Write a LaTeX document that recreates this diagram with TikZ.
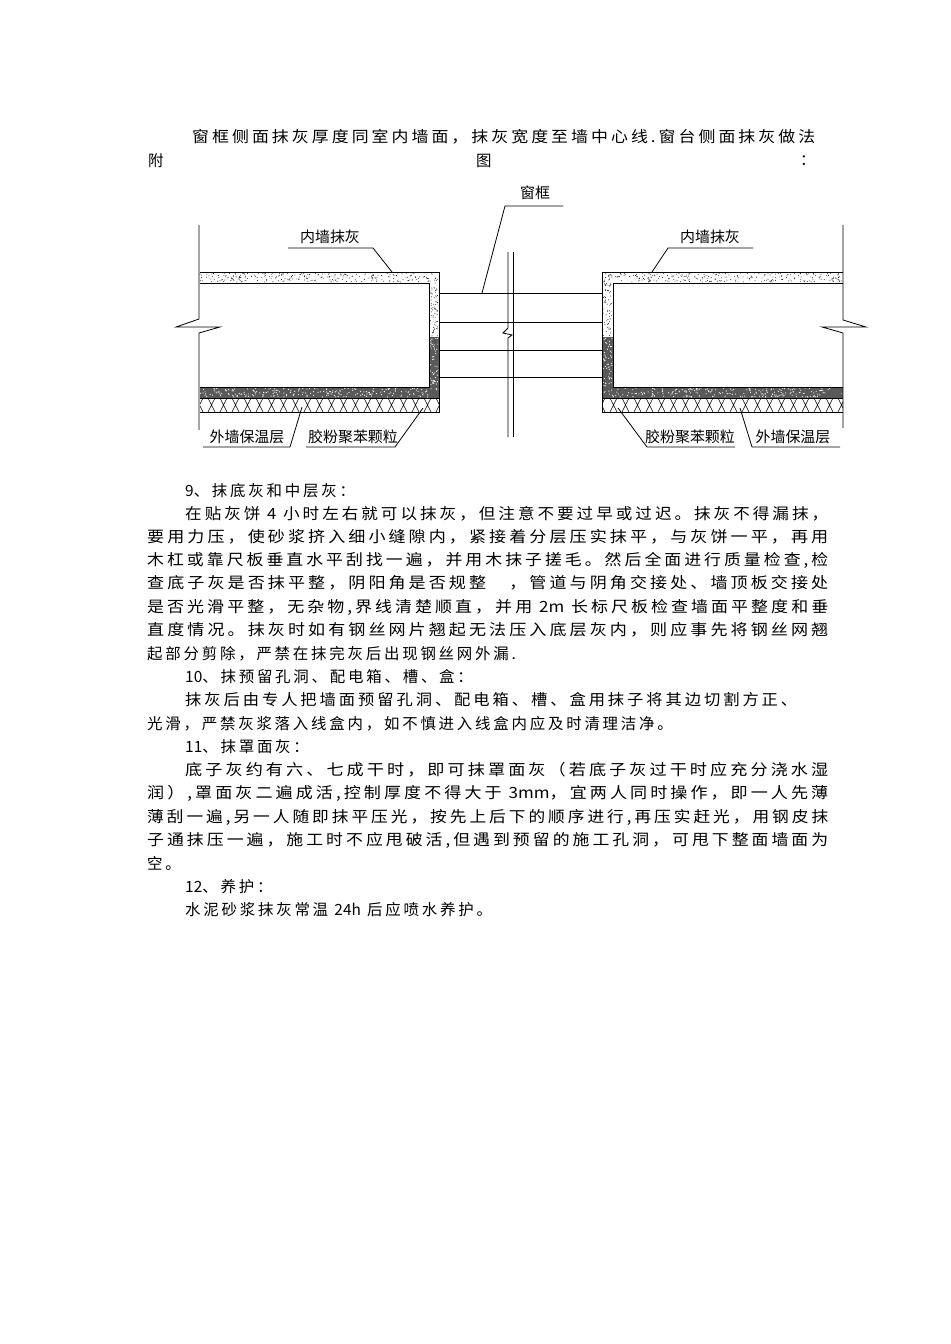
\documentclass[tikz,border=0pt]{standalone}
\usepackage{fontspec}
\usepackage{graphicx}
\newfontfamily\cjk[LetterSpace=18]{Noto Sans CJK SC}
\newfontfamily\cjklab{Noto Sans CJK SC}
\newcommand{\lt}[1]{{\cjklab #1}}
\tikzset{
  txt/.style={anchor=west,inner sep=0pt,font=\cjk\fontsize{15.5}{16}\selectfont},
  lab/.style={inner sep=0pt,font=\cjklab\fontsize{15}{15}\selectfont},
  ln/.style={line width=0.8bp},
}
\newcommand{\fullline}[2]{\resizebox{#1bp}{\height}{#2}}
\begin{document}
\begin{tikzpicture}[x=1bp,y=-1bp]
\useasboundingbox (0,0) rectangle (950,1344);
\fill[white] (0,0) rectangle (950,1344);
\pgfmathsetseed{7}
% ---------- text ----------
\node[txt] (t0) at (192,137) {\fullline{623}{窗框侧面抹灰厚度同室内墙面，抹灰宽度至墙中心线.窗台侧面抹灰做法}};
\node[txt] (ta) at (148,161) {附};
\node[txt] (tb) at (476,161) {图};
\node[txt] (tc) at (800,161) {：};
\node[txt] (t1) at (185,491) {\lt{9}、抹底灰和中层灰：};
\node[txt] (t2) at (185,514) {\fullline{643}{在贴灰饼 \lt{4} 小时左右就可以抹灰，但注意不要过早或过迟。抹灰不得漏抹，}};
\node[txt] (t3) at (147,537) {\fullline{681}{要用力压，使砂浆挤入细小缝隙内，紧接着分层压实抹平，与灰饼一平，再用}};
\node[txt] (t4) at (147,560) {\fullline{681}{木杠或靠尺板垂直水平刮找一遍，并用木抹子搓毛。然后全面进行质量检查,检}};
\node[txt] (t5) at (147,583) {\fullline{681}{查底子灰是否抹平整，阴阳角是否规整　，管道与阴角交接处、墙顶板交接处}};
\node[txt] (t6) at (147,607) {\fullline{681}{是否光滑平整，无杂物,界线清楚顺直，并用 \lt{2m} 长标尺板检查墙面平整度和垂}};
\node[txt] (t7) at (147,630) {\fullline{681}{直度情况。抹灰时如有钢丝网片翘起无法压入底层灰内，则应事先将钢丝网翘}};
\node[txt] (t8) at (147,654) {起部分剪除，严禁在抹完灰后出现钢丝网外漏.};
\node[txt] (t9) at (185,677) {\lt{10}、抹预留孔洞、配电箱、槽、盒：};
\node[txt] (t10) at (185,700) {\fullline{612}{抹灰后由专人把墙面预留孔洞、配电箱、槽、盒用抹子将其边切割方正、}};
\node[txt] (t11) at (147,724) {光滑，严禁灰浆落入线盒内，如不慎进入线盒内应及时清理洁净。};
\node[txt] (t12) at (185,747) {\lt{11}、抹罩面灰：};
\node[txt] (t13) at (185,770) {\fullline{643}{底子灰约有六、七成干时，即可抹罩面灰（若底子灰过干时应充分浇水湿}};
\node[txt] (t14) at (147,793) {\fullline{681}{润）,罩面灰二遍成活,控制厚度不得大于 \lt{3mm}，宜两人同时操作，即一人先薄}};
\node[txt] (t15) at (147,817) {\fullline{681}{薄刮一遍,另一人随即抹平压光，按先上后下的顺序进行,再压实赶光，用钢皮抹}};
\node[txt] (t16) at (147,840) {\fullline{681}{子通抹压一遍，施工时不应甩破活,但遇到预留的施工孔洞，可甩下整面墙面为}};
\node[txt] (t17) at (147,863) {空。};
\node[txt] (t18) at (185,887) {\lt{12}、养护：};
\node[txt] (t19) at (185,910) {水泥砂浆抹灰常温 \lt{24h} 后应喷水养护。};
% ---------- drawing: left wall ----------
\foreach \i in {1,...,260} {\fill ({200+238*rnd},{273+9*rnd}) circle (0.45);}
\foreach \i in {1,...,60} {\fill ({430+8*rnd},{283+53*rnd}) circle (0.45);}
\fill[black!65] (429,337) rectangle (439,398);
\fill[black!65] (200,387) rectangle (439,398);
\foreach \i in {1,...,220} {\fill[white] ({200+239*rnd},{388+9*rnd}) circle (0.6);}
\foreach \i in {1,...,50} {\fill[white] ({430+8*rnd},{338+49*rnd}) circle (0.6);}
\fill[white] (200,283) rectangle (429,387);
\begin{scope}
\clip (200,398) rectangle (439,412);
\foreach \x in {196,208,...,440} {\draw[line width=0.5bp] (\x,398)--(\x+7,412) (\x+7,398)--(\x,412);}
\end{scope}
\draw[ln] (200,272)--(439,272)--(439,412)--(200,412);
\draw[ln] (200,283)--(429,283)--(429,387)--(200,387);
\draw[ln] (200,398)--(439,398);
\draw[ln] (199,225)--(199,319)--(176,327)--(220,327)--(199,333)--(199,430);
% ---------- right wall ----------
\foreach \i in {1,...,260} {\fill ({603+239*rnd},{273+9*rnd}) circle (0.45);}
\foreach \i in {1,...,60} {\fill ({603+9*rnd},{283+53*rnd}) circle (0.45);}
\fill[black!65] (602,337) rectangle (613,398);
\fill[black!65] (602,387) rectangle (843,398);
\foreach \i in {1,...,220} {\fill[white] ({603+239*rnd},{388+9*rnd}) circle (0.6);}
\foreach \i in {1,...,50} {\fill[white] ({603+9*rnd},{338+49*rnd}) circle (0.6);}
\fill[white] (613,283) rectangle (843,387);
\begin{scope}
\clip (602,398) rectangle (843,412);
\foreach \x in {598,610,...,845} {\draw[line width=0.5bp] (\x,398)--(\x+7,412) (\x+7,398)--(\x,412);}
\end{scope}
\draw[ln] (843,272)--(602,272)--(602,412)--(843,412);
\draw[ln] (843,283)--(613,283)--(613,387)--(843,387);
\draw[ln] (602,398)--(843,398);
\draw[ln] (843,225)--(843,320)--(866,327)--(822,327)--(843,333)--(843,428);
% ---------- window frame ----------
\foreach \y in {293,322,350,377} {\draw[ln] (439,\y)--(602,\y);}
\draw[ln] (508,252)--(508,328)--(503,333)--(512,335)--(508,338)--(508,437);
\draw[ln] (513,252)--(513,437);
% ---------- labels ----------
\node[lab] (l1) at (535,193) {窗框};
\coordinate (c1a) at (505,206); \coordinate (c1b) at (563,206); \coordinate (c1c) at (482,293);
\draw[ln] (c1b)--(c1a)--(c1c);
\node[lab] (l2) at (330,237) {内墙抹灰};
\coordinate (c2a) at (288,248); \coordinate (c2b) at (373,248); \coordinate (c2c) at (392,272);
\draw[ln] (c2a)--(c2b)--(c2c);
\node[lab] (l3) at (710,237) {内墙抹灰};
\coordinate (c3a) at (753,248); \coordinate (c3b) at (668,248); \coordinate (c3c) at (652,272);
\draw[ln] (c3a)--(c3b)--(c3c);
\node[lab] (l4) at (247,437) {外墙保温层};
\coordinate (c4a) at (203,447); \coordinate (c4b) at (290,447); \coordinate (c4c) at (302,407);
\draw[ln] (c4a)--(c4b)--(c4c);
\node[lab] (l5) at (353,437) {胶粉聚苯颗粒};
\coordinate (c5a) at (306,447); \coordinate (c5b) at (395,447); \coordinate (c5c) at (423,408);
\draw[ln] (c5a)--(c5b)--(c5c);
\node[lab] (l6) at (690,437) {胶粉聚苯颗粒};
\coordinate (c6a) at (735,447); \coordinate (c6b) at (647,447); \coordinate (c6c) at (618,408);
\draw[ln] (c6a)--(c6b)--(c6c);
\node[lab] (l7) at (793,437) {外墙保温层};
\coordinate (c7a) at (840,447); \coordinate (c7b) at (752,447); \coordinate (c7c) at (740,408);
\draw[ln] (c7a)--(c7b)--(c7c);
\end{tikzpicture}
\end{document}
